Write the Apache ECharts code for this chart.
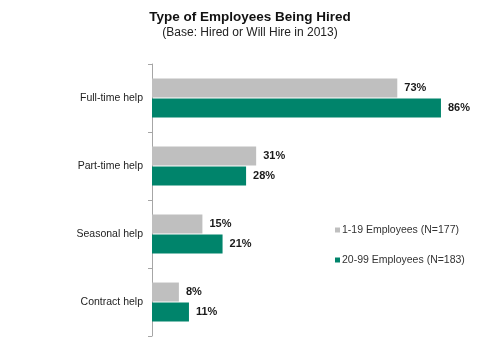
<!DOCTYPE html>
<html>
<head>
<meta charset="utf-8">
<script src="https://cdn.jsdelivr.net/npm/echarts@6/dist/echarts.min.js"></script>
<style>
  html, body { margin: 0; padding: 0; background: #fff; }
  #chart { width: 500px; height: 343px; }
</style>
</head>
<body>
<div id="chart"></div>
<script>
// Hiring categories, top to bottom
const categories = ['Full-time help', 'Part-time help', 'Seasonal help', 'Contract help'];
// Percent of firms hiring each type, by company size
const small = [73, 31, 15, 8];     // 1-19 employees
const medium = [86, 28, 21, 11];   // 20-99 employees
const seriesNames = ['1-19 Employees (N=177)', '20-99 Employees (N=183)'];

const FONT = '"Liberation Sans", Arial, Helvetica, sans-serif';

const chart = echarts.init(document.getElementById('chart'), null, { renderer: 'canvas' });

const valueLabel = {
  show: true,
  position: 'right',
  distance: 7,
  formatter: p => p.value + '%',
  fontFamily: FONT,
  fontSize: 11,
  fontWeight: 'bold',
  color: '#1a1a1a'
};

chart.setOption({
  animation: false,
  backgroundColor: '#ffffff',
  title: [
    {
      text: 'Type of Employees Being Hired',
      left: 'center',
      top: 5,
      textStyle: { fontFamily: FONT, fontSize: 13.5, fontWeight: 'bold', color: '#111' }
    },
    {
      text: '(Base: Hired or Will Hire in 2013)',
      left: 'center',
      top: 22,
      textStyle: { fontFamily: FONT, fontSize: 12, fontWeight: 'normal', color: '#222' }
    }
  ],
  legend: {
    orient: 'vertical',
    left: 335,
    top: 224,
    padding: 0,
    itemWidth: 5,
    itemHeight: 5,
    itemGap: 18,
    icon: 'rect',
    textStyle: { fontFamily: FONT, fontSize: 10.5, color: '#333', lineHeight: 12, padding: [0, 0, 0, -3] },
    data: seriesNames
  },
  grid: { left: 152, top: 64, width: 336, height: 272 },
  xAxis: {
    type: 'value',
    min: 0,
    max: 100,
    show: false
  },
  yAxis: {
    type: 'category',
    data: categories,
    inverse: true,
    axisLine: { show: true, lineStyle: { color: '#a6a6a6', width: 1 } },
    axisTick: { show: true, length: 4, lineStyle: { color: '#a6a6a6' } },
    axisLabel: { fontFamily: FONT, fontSize: 10.5, color: '#222', margin: 9 },
    splitLine: { show: false }
  },
  series: [
    {
      name: seriesNames[0],
      type: 'bar',
      data: small,
      barWidth: 19,
      barGap: '5%',
      itemStyle: { color: '#bfbfbf' },
      label: valueLabel
    },
    {
      name: seriesNames[1],
      type: 'bar',
      data: medium,
      barWidth: 19,
      barGap: '5%',
      itemStyle: { color: '#00846b' },
      label: valueLabel
    }
  ]
});
</script>
</body>
</html>
